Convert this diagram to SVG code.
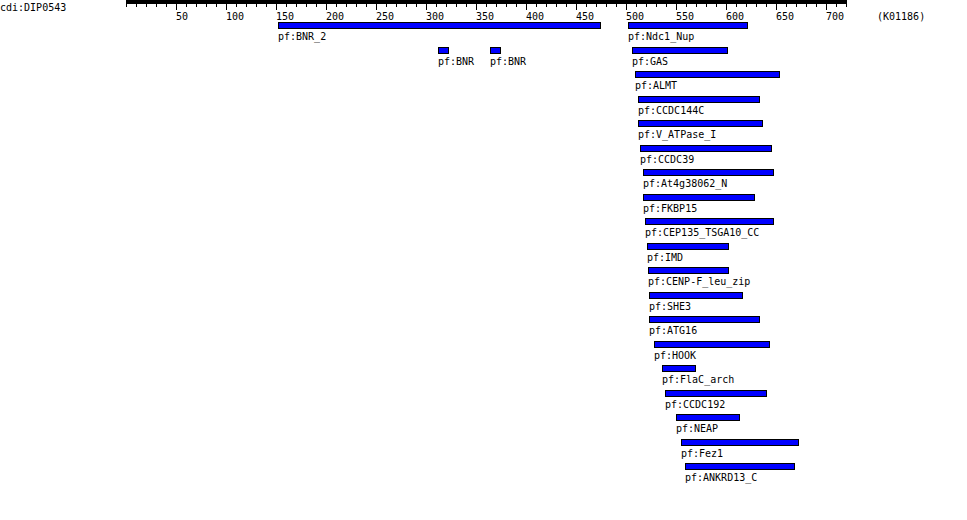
<svg xmlns="http://www.w3.org/2000/svg" width="967" height="520" viewBox="0 0 967 520">
<defs>
<style>
text{font-family:"DejaVu Sans Mono","Liberation Mono",monospace;font-size:10px;fill:#000}
.bar{fill:#0000ff;stroke:#000;stroke-width:1;shape-rendering:crispEdges}
.tk{stroke:#000;stroke-width:1;shape-rendering:crispEdges}
</style>
</defs>
<rect width="967" height="520" fill="#fff"/>
<text x="0" y="11">cdi:DIP0543</text>
<g id="ruler">
<rect x="126" y="0" width="721" height="4" fill="#000"/>
<path class="tk" d="M126.5 4v3M136.5 4v3M146.5 4v3M156.5 4v3M166.5 4v3M176.5 4v6M186.5 4v3M196.5 4v3M206.5 4v3M216.5 4v3M226.5 4v6M236.5 4v3M246.5 4v3M256.5 4v3M266.5 4v3M276.5 4v6M286.5 4v3M296.5 4v3M306.5 4v3M316.5 4v3M326.5 4v6M336.5 4v3M346.5 4v3M356.5 4v3M366.5 4v3M376.5 4v6M386.5 4v3M396.5 4v3M406.5 4v3M416.5 4v3M426.5 4v6M436.5 4v3M446.5 4v3M456.5 4v3M466.5 4v3M476.5 4v6M486.5 4v3M496.5 4v3M506.5 4v3M516.5 4v3M526.5 4v6M536.5 4v3M546.5 4v3M556.5 4v3M566.5 4v3M576.5 4v6M586.5 4v3M596.5 4v3M606.5 4v3M616.5 4v3M626.5 4v6M636.5 4v3M646.5 4v3M656.5 4v3M666.5 4v3M676.5 4v6M686.5 4v3M696.5 4v3M706.5 4v3M716.5 4v3M726.5 4v6M736.5 4v3M746.5 4v3M756.5 4v3M766.5 4v3M776.5 4v6M786.5 4v3M796.5 4v3M806.5 4v3M816.5 4v3M826.5 4v6M836.5 4v3M846.5 4v3"/>
<text x="176" y="20">50</text>
<text x="226" y="20">100</text>
<text x="276" y="20">150</text>
<text x="326" y="20">200</text>
<text x="376" y="20">250</text>
<text x="426" y="20">300</text>
<text x="476" y="20">350</text>
<text x="526" y="20">400</text>
<text x="576" y="20">450</text>
<text x="626" y="20">500</text>
<text x="676" y="20">550</text>
<text x="726" y="20">600</text>
<text x="776" y="20">650</text>
<text x="826" y="20">700</text>
<text x="877" y="20">(K01186)</text>
</g>
<g id="BNR_2"><rect class="bar" x="278.5" y="22.5" width="322" height="6"/><text x="278" y="40">pf:BNR_2</text></g>
<g id="Ndc1_Nup"><rect class="bar" x="628.5" y="22.5" width="119" height="6"/><text x="628" y="40">pf:Ndc1_Nup</text></g>
<g id="BNR_a"><rect class="bar" x="438.5" y="47" width="10" height="6"/><text x="438" y="64.5">pf:BNR</text></g>
<g id="BNR_b"><rect class="bar" x="490.5" y="47" width="10" height="6"/><text x="490" y="64.5">pf:BNR</text></g>
<g id="GAS"><rect class="bar" x="632.5" y="47" width="95" height="6"/><text x="632" y="64.5">pf:GAS</text></g>
<g id="ALMT"><rect class="bar" x="635.5" y="71.5" width="144" height="6"/><text x="635" y="89">pf:ALMT</text></g>
<g id="CCDC144C"><rect class="bar" x="638.5" y="96" width="121" height="6"/><text x="638" y="113.5">pf:CCDC144C</text></g>
<g id="V_ATPase_I"><rect class="bar" x="638.5" y="120.5" width="124" height="6"/><text x="638" y="138">pf:V_ATPase_I</text></g>
<g id="CCDC39"><rect class="bar" x="640.5" y="145" width="131" height="6"/><text x="640" y="162.5">pf:CCDC39</text></g>
<g id="At4g38062_N"><rect class="bar" x="643.5" y="169.5" width="130" height="6"/><text x="643" y="187">pf:At4g38062_N</text></g>
<g id="FKBP15"><rect class="bar" x="643.5" y="194" width="111" height="6"/><text x="643" y="211.5">pf:FKBP15</text></g>
<g id="CEP135_TSGA10_CC"><rect class="bar" x="645.5" y="218.5" width="128" height="6"/><text x="645" y="236">pf:CEP135_TSGA10_CC</text></g>
<g id="IMD"><rect class="bar" x="647.5" y="243" width="81" height="6"/><text x="647" y="260.5">pf:IMD</text></g>
<g id="CENP-F_leu_zip"><rect class="bar" x="648.5" y="267.5" width="80" height="6"/><text x="648" y="285">pf:CENP-F_leu_zip</text></g>
<g id="SHE3"><rect class="bar" x="649.5" y="292" width="93" height="6"/><text x="649" y="309.5">pf:SHE3</text></g>
<g id="ATG16"><rect class="bar" x="649.5" y="316.5" width="110" height="6"/><text x="649" y="334">pf:ATG16</text></g>
<g id="HOOK"><rect class="bar" x="654.5" y="341" width="115" height="6"/><text x="654" y="358.5">pf:HOOK</text></g>
<g id="FlaC_arch"><rect class="bar" x="662.5" y="365.5" width="33" height="6"/><text x="662" y="383">pf:FlaC_arch</text></g>
<g id="CCDC192"><rect class="bar" x="665.5" y="390" width="101" height="6"/><text x="665" y="407.5">pf:CCDC192</text></g>
<g id="NEAP"><rect class="bar" x="676.5" y="414.5" width="63" height="6"/><text x="676" y="432">pf:NEAP</text></g>
<g id="Fez1"><rect class="bar" x="681.5" y="439" width="117" height="6"/><text x="681" y="456.5">pf:Fez1</text></g>
<g id="ANKRD13_C"><rect class="bar" x="685.5" y="463.5" width="109" height="6"/><text x="685" y="481">pf:ANKRD13_C</text></g>
</svg>
